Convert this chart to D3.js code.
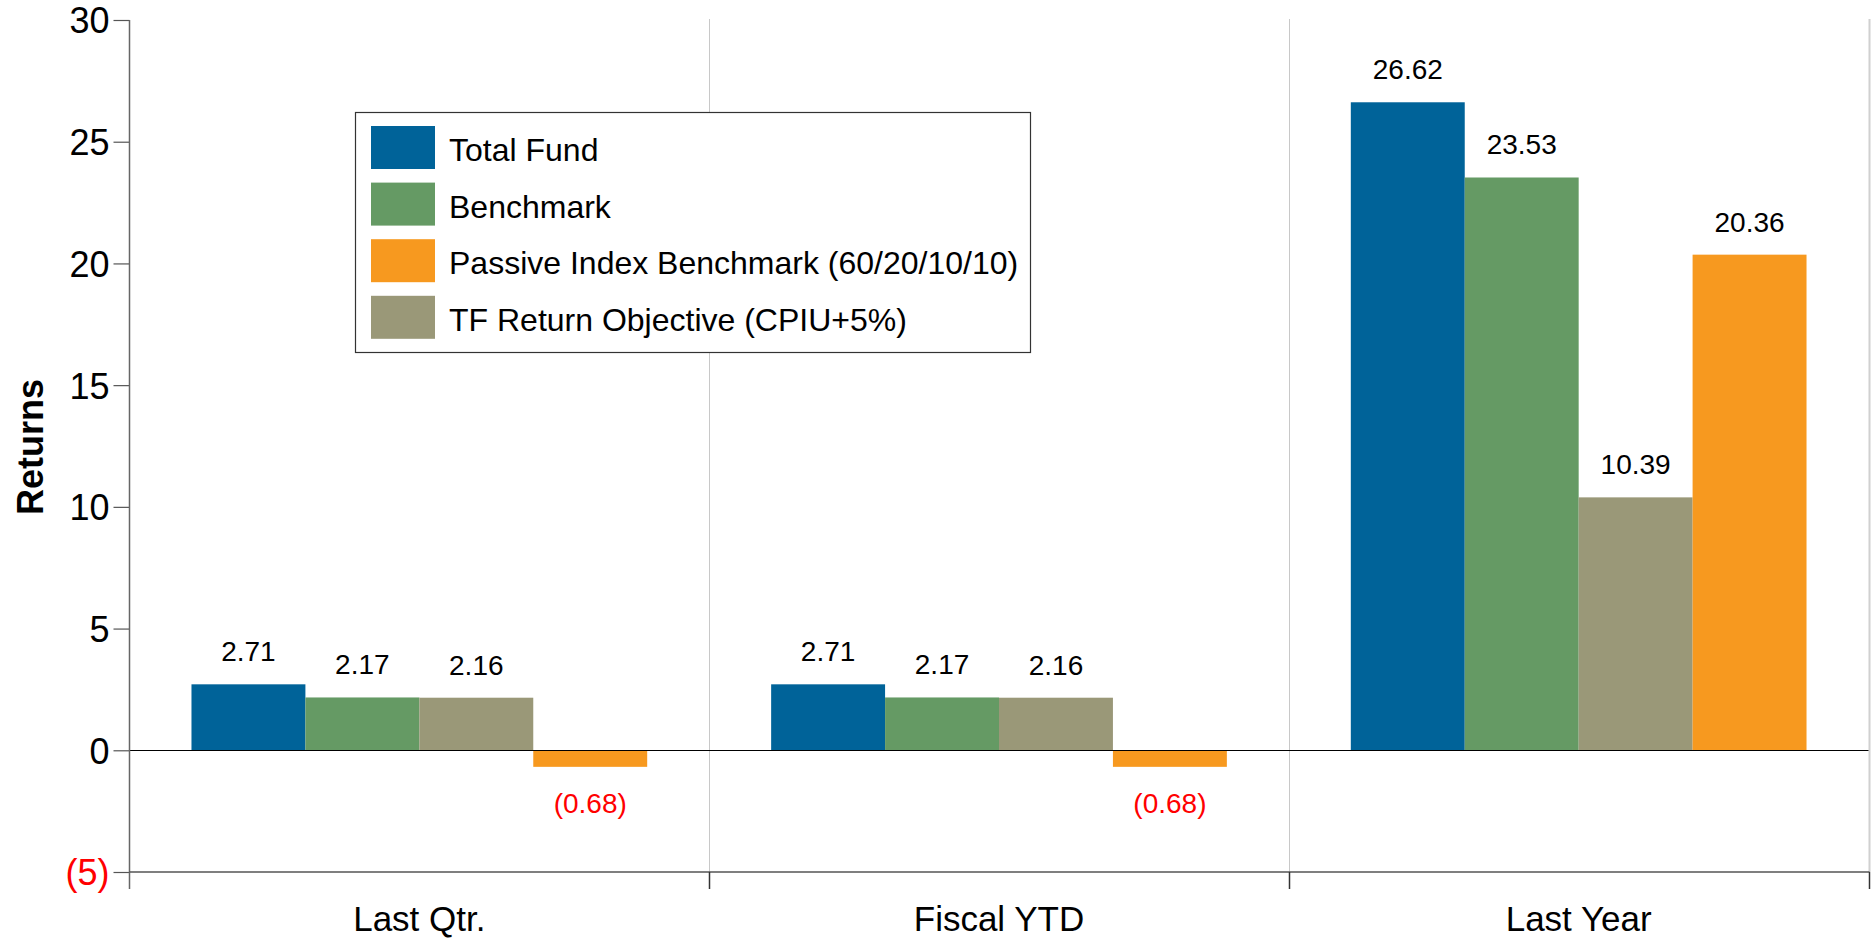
<!DOCTYPE html>
<html>
<head>
<meta charset="utf-8">
<script src="https://cdn.jsdelivr.net/npm/d3@7"></script>
<style>
  body { margin: 0; background: #fff; }
  text { font-family: Arial, "Liberation Sans", sans-serif; }
</style>
</head>
<body>
<svg id="chart"></svg>
<script>
// categories and series
const categories = ["Last Qtr.", "Fiscal YTD", "Last Year"];
const seriesOrder = ["Total Fund", "Benchmark", "TF Return Objective (CPIU+5%)", "Passive Index Benchmark (60/20/10/10)"];
const legendOrder = ["Total Fund", "Benchmark", "Passive Index Benchmark (60/20/10/10)", "TF Return Objective (CPIU+5%)"];
const totalFund = [2.71, 2.71, 26.62];
const benchmark = [2.17, 2.17, 23.53];
const returnObjective = [2.16, 2.16, 10.39];
const passiveIndex = [-0.68, -0.68, 20.36];
const yTicks = [-5, 0, 5, 10, 15, 20, 25, 30];

const colors = {
  "Total Fund": "#006399",
  "Benchmark": "#659a64",
  "Passive Index Benchmark (60/20/10/10)": "#f7991f",
  "TF Return Objective (CPIU+5%)": "#9a9878",
};

const valuesBySeries = {
  "Total Fund": totalFund,
  "Benchmark": benchmark,
  "TF Return Objective (CPIU+5%)": returnObjective,
  "Passive Index Benchmark (60/20/10/10)": passiveIndex,
};

const width = 1876, height = 938;
const plot = { left: 129.5, right: 1868.5, top: 20, bottom: 872 };

const svg = d3.select("#chart").attr("width", width).attr("height", height);

const x0 = d3.scaleBand().domain(categories).range([plot.left, plot.right]).padding(0);
const x1 = d3.scaleBand().domain(seriesOrder).range([0, x0.bandwidth()])
  .paddingInner(0).paddingOuter(0.544);
const y = d3.scaleLinear().domain([-5, 30]).range([plot.bottom, plot.top]);

const fmt = (v) => (v < 0 ? "(" + d3.format(".2f")(-v) + ")" : d3.format(".2f")(v));

// vertical separators between categories
svg.append("g")
  .selectAll("line")
  .data(categories)
  .join("line")
  .attr("x1", (d) => Math.round(x0(d) + x0.bandwidth()) + 0.5)
  .attr("x2", (d) => Math.round(x0(d) + x0.bandwidth()) + 0.5)
  .attr("y1", y(30) - 1)
  .attr("y2", y(-5))
  .attr("stroke", (d, i) => (i === categories.length - 1 ? "#d0d0d0" : "#c8c8c8"))
  .attr("stroke-width", (d, i) => (i === categories.length - 1 ? 2 : 1));

// bars
const rows = categories.flatMap((c, ci) =>
  seriesOrder.map((s) => ({ category: c, series: s, value: valuesBySeries[s][ci] }))
);

const bars = svg.append("g");
bars.selectAll("rect")
  .data(rows)
  .join("rect")
  .attr("x", (d) => x0(d.category) + x1(d.series))
  .attr("width", x1.bandwidth())
  .attr("y", (d) => y(Math.max(0, d.value)))
  .attr("height", (d) => Math.abs(y(d.value) - y(0)))
  .attr("fill", (d) => colors[d.series]);

bars.selectAll("text")
  .data(rows)
  .join("text")
  .attr("x", (d) => x0(d.category) + x1(d.series) + x1.bandwidth() / 2)
  .attr("y", (d) => (d.value >= 0 ? y(d.value) - 23 : y(d.value) + 46))
  .attr("text-anchor", "middle")
  .attr("font-size", 28)
  .attr("fill", (d) => (d.value < 0 ? "#ff0000" : "#000"))
  .text((d) => fmt(d.value));

// zero line
svg.append("line")
  .attr("x1", plot.left).attr("x2", plot.right)
  .attr("y1", Math.round(y(0)) + 0.5).attr("y2", Math.round(y(0)) + 0.5)
  .attr("stroke", "#000").attr("stroke-width", 1.2);

// y axis
const yAxis = svg.append("g")
  .attr("transform", `translate(${plot.left},0)`)
  .call(d3.axisLeft(y).tickValues(yTicks).tickSize(16).tickPadding(4)
    .tickFormat((d) => (d < 0 ? "(" + -d + ")" : d)));
yAxis.select(".domain").remove();
yAxis.append("line")
  .attr("x1", 0).attr("x2", 0)
  .attr("y1", y(30)).attr("y2", 889)
  .attr("stroke", "#666").attr("stroke-width", 1.5);
yAxis.selectAll(".tick line").attr("stroke", "#555").attr("stroke-width", 1.2);
yAxis.selectAll(".tick text")
  .attr("font-size", 36)
  .attr("font-family", "Arial, 'Liberation Sans', sans-serif")
  .attr("dy", "0.36em")
  .attr("fill", (d) => (d < 0 ? "#ff0000" : "#000"));

// x axis along the bottom
const xAxis = svg.append("g")
  .attr("transform", `translate(0,${plot.bottom})`);
xAxis.append("line")
  .attr("x1", plot.left).attr("x2", plot.right + 1)
  .attr("y1", 0).attr("y2", 0)
  .attr("stroke", "#555").attr("stroke-width", 1.5);
xAxis.selectAll(".sep")
  .data(categories)
  .join("line")
  .attr("class", "sep")
  .attr("x1", (d) => Math.round(x0(d) + x0.bandwidth()) + 0.5)
  .attr("x2", (d) => Math.round(x0(d) + x0.bandwidth()) + 0.5)
  .attr("y1", 0).attr("y2", 17)
  .attr("stroke", "#333").attr("stroke-width", 1.5);
xAxis.selectAll(".cat")
  .data(categories)
  .join("text")
  .attr("class", "cat")
  .attr("x", (d) => x0(d) + x0.bandwidth() / 2)
  .attr("y", 59)
  .attr("text-anchor", "middle")
  .attr("font-size", 35)
  .text((d) => d);

// y axis title
svg.append("text")
  .attr("transform", "translate(43,447) rotate(-90)")
  .attr("text-anchor", "middle")
  .attr("font-size", 36)
  .attr("font-weight", "bold")
  .text("Returns");

// legend
const legend = svg.append("g").attr("transform", "translate(355.5,112.5)");
legend.append("rect")
  .attr("width", 675).attr("height", 240)
  .attr("fill", "#fff").attr("stroke", "#333").attr("stroke-width", 1.2);

const legendItems = legend.selectAll(".item")
  .data(legendOrder)
  .join("g")
  .attr("class", "item")
  .attr("transform", (d, i) => `translate(15.5,${13.5 + i * 56.6})`);
legendItems.append("rect")
  .attr("width", 64).attr("height", 43)
  .attr("fill", (d) => colors[d]);
legendItems.append("text")
  .attr("x", 78)
  .attr("y", 35)
  .attr("font-size", 32)
  .text((d) => d);
</script>
</body>
</html>
